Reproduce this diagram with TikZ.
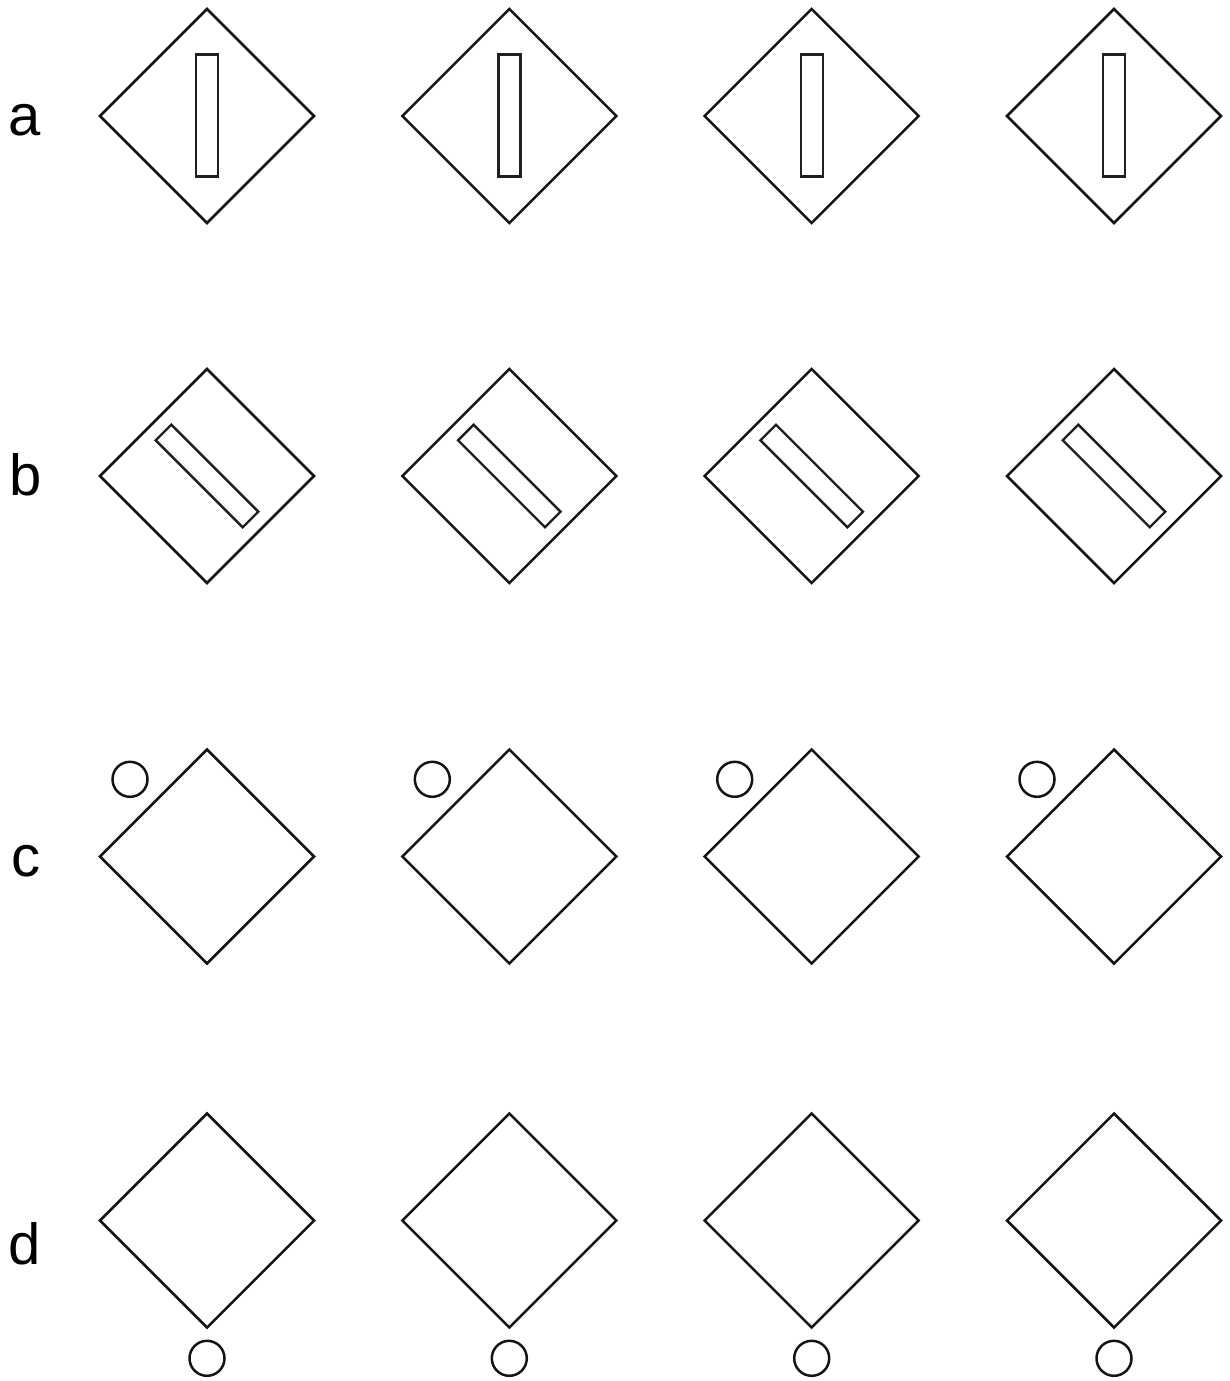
\documentclass[tikz,border=0pt]{standalone}
\usepackage{fontspec}
\setmainfont{Liberation Sans}
\begin{document}
\begin{tikzpicture}[x=1pt,y=-1pt,
  shape line/.style={draw=black!92, line width=2.5pt, line join=miter},
  bar line/.style={draw=black!88, line width=2.4pt},
  rowlabel/.style={anchor=base, inner sep=0pt, font=\fontsize{58}{58}\selectfont}]
\fill[white] (0,0) rectangle (1229,1381);
\useasboundingbox (0,0) rectangle (1229,1381);
% labels
\node[rowlabel] (la) at (25,135) {a};
\node[rowlabel] (lb) at (25.5,495) {b};
\node[rowlabel] (lc) at (26,876) {c};
\node[rowlabel] (ld) at (25,1264) {d};
\foreach \cx in {207,509.3,811.7,1114}{
  % row a
  \draw[shape line] (\cx,9) -- (\cx+107,116) -- (\cx,223) -- (\cx-107,116) -- cycle;
  \draw[bar line] (\cx-11,54.5) rectangle (\cx+11,176.5);
  % row b
  \draw[shape line] (\cx,369) -- (\cx+107,476) -- (\cx,583) -- (\cx-107,476) -- cycle;
  \draw[bar line] (\cx+51.27,476+35.71) -- (\cx+35.71,476+51.27) -- (\cx-51.27,476-35.71) -- (\cx-35.71,476-51.27) -- cycle;
  % row c
  \draw[shape line] (\cx,749.5) -- (\cx+107,856.5) -- (\cx,963.5) -- (\cx-107,856.5) -- cycle;
  \draw[shape line] (\cx-77,779.3) circle[radius=17.5];
  % row d
  \draw[shape line] (\cx,1113.5) -- (\cx+107,1220.5) -- (\cx,1327.5) -- (\cx-107,1220.5) -- cycle;
  \draw[shape line] (\cx,1358.3) circle[radius=17.5];
}
\end{tikzpicture}
\end{document}
